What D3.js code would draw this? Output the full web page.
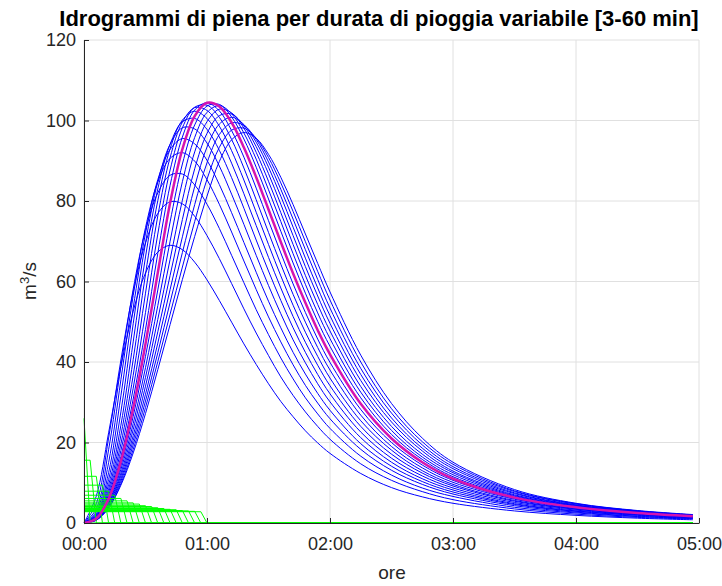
<!DOCTYPE html><html><head><meta charset="utf-8">
<script src="https://cdn.jsdelivr.net/npm/d3@7"></script>
<style>body{margin:0;background:#fff}</style></head><body>
<svg id="c" width="722" height="586"></svg>
<script>
// durations of rain (min)
const durations=[3,6,9,12,15,18,21,24,27,30,33,36,39,42,45,48,51,54,57,60];
// rain intensity blocks (green)
const rainH=[26,15.6,11.6,9.4,7.9,6.9,6.1,5.5,5.0,4.7,4.3,4.1,3.8,3.6,3.4,3.3,3.1,3.0,2.9,2.8];
// sampling times of the hydrographs (min)
const times=[0,6,12,18,24,30,36,42,48,54,60,66,72,78,84,90,96,102,108,114,120,135,150,165,180,210,240,270,297];
// hydrographs (m3/s), one per duration
const q3 =[0.0,6.7,22.4,38.9,52.6,62.1,67.3,69.0,67.9,64.8,60.4,55.3,49.9,44.5,39.4,34.6,30.2,26.4,22.9,19.9,17.3,12.3,8.8,6.5,4.9,3.0,1.9,1.2,0.8];
const q6 =[0.0,4.8,21.1,40.5,57.4,69.6,76.9,79.8,79.3,76.2,71.4,65.7,59.5,53.2,47.2,41.6,36.3,31.7,27.6,24.0,20.8,14.7,10.6,7.8,5.8,3.5,2.2,1.4,1.0];
const q9 =[0.0,3.5,18.2,38.9,58.1,72.7,82.0,86.4,86.7,84.0,79.2,73.2,66.5,59.7,53.0,46.8,41.0,35.8,31.1,27.1,23.5,16.6,11.9,8.7,6.6,3.9,2.5,1.6,1.1];
const q12=[0.0,2.8,15.0,35.6,56.5,73.4,84.7,90.6,92.0,89.9,85.3,79.2,72.3,65.1,58.0,51.2,45.0,39.3,34.2,29.8,25.9,18.3,13.1,9.6,7.2,4.3,2.7,1.7,1.2];
const q15=[0.0,2.3,12.5,31.6,53.4,72.0,85.3,92.8,95.5,94.2,90.1,84.1,77.1,69.7,62.3,55.1,48.5,42.4,37.0,32.2,28.0,19.7,14.1,10.3,7.7,4.6,2.9,1.9,1.3];
const q18=[0.0,2.0,10.8,27.6,49.5,69.6,84.8,94.1,98.2,97.9,94.4,88.7,81.7,74.2,66.5,59.0,52.0,45.5,39.8,34.6,30.1,21.2,15.1,11.0,8.2,4.8,3.0,2.0,1.3];
const q21=[0.0,1.8,9.5,24.3,45.0,66.1,83.0,94.1,99.7,100.5,97.8,92.6,85.8,78.2,70.3,62.6,55.3,48.5,42.4,36.9,32.1,22.6,16.1,11.7,8.7,5.1,3.2,2.1,1.4];
const q24=[0.0,1.6,8.5,21.8,40.6,61.8,80.1,93.0,100.1,102.3,100.5,95.9,89.4,81.8,73.9,66.0,58.4,51.3,44.9,39.2,34.1,24.0,17.1,12.4,9.2,5.4,3.4,2.2,1.5];
const q27=[0.0,1.4,7.7,19.7,36.7,57.1,76.3,90.8,99.6,103.2,102.5,98.6,92.5,85.2,77.2,69.2,61.4,54.1,47.4,41.4,36.0,25.4,18.1,13.0,9.6,5.6,3.5,2.3,1.5];
const q30=[0.0,1.3,7.0,18.0,33.5,52.3,71.8,87.7,98.2,103.3,103.8,100.8,95.3,88.2,80.3,72.2,64.3,56.8,49.9,43.6,38.0,26.8,19.0,13.7,10.1,5.9,3.6,2.3,1.6];
const q33=[0.0,1.2,6.5,16.5,30.8,48.1,67.0,83.9,95.9,102.6,104.4,102.4,97.5,90.9,83.2,75.1,67.1,59.4,52.3,45.7,39.9,28.2,20.0,14.4,10.6,6.1,3.8,2.4,1.6];
const q36=[0.0,1.1,6.0,15.3,28.5,44.5,62.2,79.5,92.9,101.1,104.4,103.5,99.5,93.3,85.9,77.9,69.8,62.0,54.7,47.9,41.9,29.6,21.0,15.1,11.0,6.3,3.9,2.5,1.7];
const q39=[0.0,1.0,5.6,14.2,26.5,41.4,57.9,74.8,89.2,98.9,103.6,104.0,100.9,95.4,88.4,80.5,72.5,64.6,57.1,50.1,43.9,31.1,22.0,15.8,11.5,6.6,4.0,2.6,1.8];
const q42=[0.0,1.0,5.2,13.3,24.7,38.6,54.0,70.0,84.8,95.8,102.0,103.7,101.7,96.9,90.4,82.8,74.9,66.9,59.3,52.2,45.8,32.5,23.0,16.4,12.0,6.8,4.2,2.7,1.8];
const q45=[0.0,0.9,4.9,12.4,23.2,36.2,50.6,65.5,80.2,92.2,99.7,102.8,101.9,98.1,92.1,84.9,77.1,69.2,61.5,54.3,47.7,33.9,24.0,17.1,12.5,7.0,4.3,2.7,1.9];
const q48=[0.0,0.8,4.6,11.7,21.7,34.0,47.5,61.5,75.4,88.0,96.8,101.2,101.6,98.7,93.5,86.8,79.2,71.4,63.7,56.4,49.6,35.4,25.1,17.9,12.9,7.3,4.4,2.8,1.9];
const q51=[0.0,0.8,4.3,11.0,20.5,32.0,44.7,58.0,71.1,83.6,93.4,99.1,100.8,99.0,94.6,88.4,81.2,73.5,65.8,58.4,51.5,36.9,26.1,18.6,13.5,7.5,4.5,2.9,1.9];
const q54=[0.0,0.8,4.1,10.4,19.4,30.3,42.3,54.8,67.2,79.1,89.5,96.5,99.4,98.8,95.3,89.7,82.9,75.5,67.9,60.5,53.4,38.4,27.3,19.4,14.0,7.8,4.7,3.0,2.0];
const q57=[0.0,0.7,3.8,9.8,18.3,28.7,40.1,51.9,63.6,74.9,85.4,93.3,97.6,98.1,95.6,90.8,84.5,77.4,69.9,62.5,55.4,40.0,28.4,20.2,14.6,8.0,4.8,3.0,2.0];
const q60=[0.0,0.7,3.7,9.4,17.4,27.2,38.1,49.3,60.5,71.2,81.2,89.8,95.2,97.0,95.6,91.6,85.9,79.1,71.8,64.5,57.4,41.7,29.7,21.1,15.1,8.3,4.9,3.1,2.1];
const hydro=[q3,q6,q9,q12,q15,q18,q21,q24,q27,q30,q33,q36,q39,q42,q45,q48,q51,q54,q57,q60];
const critical=36;
const xTicks=[0,60,120,180,240,300];
const xTickLabels=["00:00","01:00","02:00","03:00","04:00","05:00"];
const yTicks=[0,20,40,60,80,100,120];

const svg=d3.select("#c");
const x=d3.scaleLinear().domain([0,300]).range([84,699]);
const y=d3.scaleLinear().domain([0,120]).range([523,40]);
const g=svg.append("g");
g.selectAll(".gx").data(xTicks).join("line").attr("x1",d=>x(d)).attr("x2",d=>x(d)).attr("y1",y(0)).attr("y2",y(120)).attr("stroke","#e0e0e0");
g.selectAll(".gy").data(yTicks).join("line").attr("y1",d=>y(d)).attr("y2",d=>y(d)).attr("x1",x(0)).attr("x2",x(300)).attr("stroke","#e0e0e0");
const hLine=d3.line().x(d=>x(d[0])).y(d=>y(d[1])).curve(d3.curveCatmullRom.alpha(0.5));
const rLine=d3.line().x(d=>x(d[0])).y(d=>y(d[1]));
// blue hydrographs
hydro.forEach((q,j)=>{if(durations[j]===critical)return;
 g.append("path").datum(times.map((t,i)=>[t,q[i]])).attr("d",hLine).attr("fill","none").attr("stroke","#0000ff").attr("stroke-width",1);});
// green rain blocks
durations.forEach((d,j)=>{const pts=[[0,rainH[j]],[d-3,rainH[j]],[d,0],[297,0]];
 g.append("path").datum(pts).attr("d",rLine).attr("fill","none").attr("stroke","#00ff00").attr("stroke-width",1);});
// critical hydrograph
const jc=durations.indexOf(critical);
g.append("path").datum(times.map((t,i)=>[t,hydro[jc][i]])).attr("d",hLine).attr("fill","none").attr("stroke","#d414b0").attr("stroke-width",2.5);
const ax=svg.append("g").attr("transform",`translate(0,${y(0)})`).call(d3.axisBottom(x).tickValues(xTicks).tickSizeInner(-5).tickSizeOuter(0).tickPadding(14).tickFormat((d,i)=>xTickLabels[i]));
const ay=svg.append("g").attr("transform",`translate(${x(0)},0)`).call(d3.axisLeft(y).tickValues(yTicks).tickSizeInner(-5).tickSizeOuter(0).tickPadding(8));
[ax,ay].forEach(a=>{a.select(".domain").attr("stroke","#262626");a.selectAll(".tick line").attr("stroke","#262626");a.selectAll("text").attr("fill","#262626").style("font-family","Liberation Sans, Arial").style("font-size","18px");});
svg.append("text").attr("x",379).attr("y",26).attr("text-anchor","middle").style("font-family","Liberation Sans, Arial").style("font-weight","bold").style("font-size","22px").text("Idrogrammi di piena per durata di pioggia variabile [3-60 min]");
svg.append("text").attr("x",392).attr("y",579).attr("text-anchor","middle").attr("fill","#262626").style("font-family","Liberation Sans, Arial").style("font-size","19px").text("ore");
const yl=svg.append("text").attr("transform","translate(36,281) rotate(-90)").attr("text-anchor","middle").attr("fill","#262626").style("font-family","Liberation Sans, Arial").style("font-size","19px");
yl.append("tspan").text("m");yl.append("tspan").attr("dy",-7).style("font-size","13px").text("3");yl.append("tspan").attr("dy",7).text("/s");
</script></body></html>
